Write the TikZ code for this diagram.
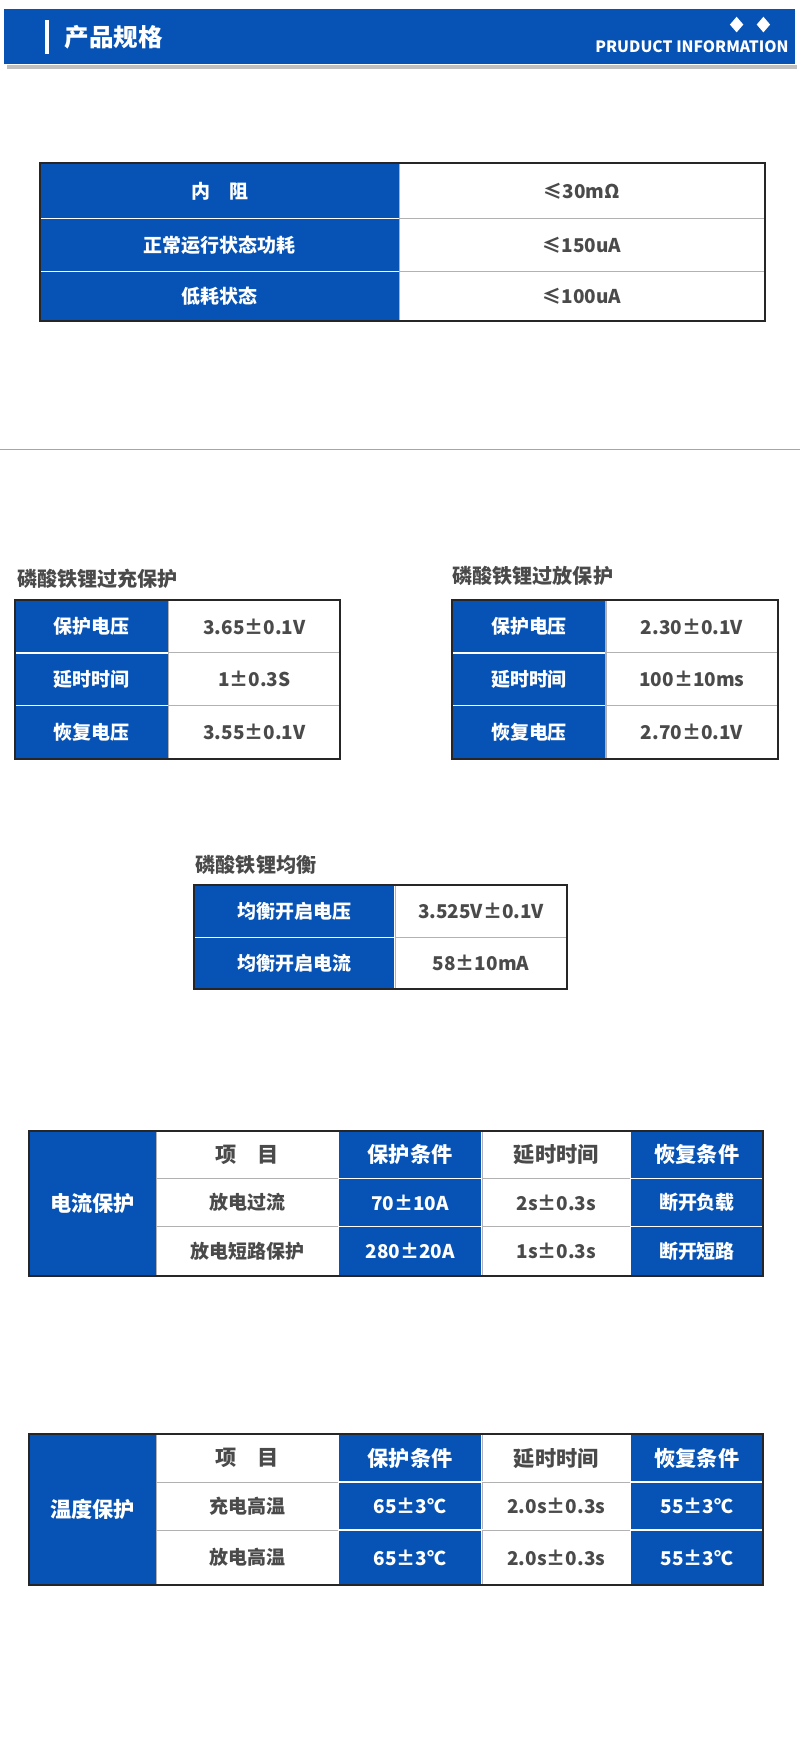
\documentclass[tikz,border=0pt]{standalone}
\usepackage{fontspec}
\setmainfont{Noto Sans CJK SC}
\definecolor{mainblue}{HTML}{0652B5}
\definecolor{txtgray}{HTML}{4A4A4A}
\tikzset{
  cell/.style={inner sep=0pt, outer sep=0pt, font=\fontsize{8.5}{10}\selectfont\bfseries},
  bluecell/.style={cell, fill=mainblue, draw=white, line width=0.6pt, text=white},
  whitecell/.style={cell, fill=white, draw=gray!60, line width=0.5pt, text=txtgray},
  bigcell/.style={font=\fontsize{9.5}{11}\selectfont\bfseries},
  frame/.style={draw=black!85, line width=0.9pt},
  title/.style={anchor=west, inner sep=0pt, text=txtgray, font=\fontsize{9}{11}\selectfont\bfseries}
}
% cell from its corners (pixels of the reference)
\newcommand{\cell}[7]{%
  \pgfmathsetmacro\cx{(#2+#4)/2}\pgfmathsetmacro\cy{(#3+#5)/2}%
  \pgfmathsetmacro\cw{(#4-#2)*0.5}\pgfmathsetmacro\ch{(#5-#3)*0.5}%
  \node[#6, minimum width=\cw pt, minimum height=\ch pt] (#1) at (\cx,\cy) {#7};}
\begin{document}
\begin{tikzpicture}[x=0.5pt, y=-0.5pt]
\useasboundingbox[fill=white] (0,0) rectangle (717,1568);
% header
\fill[black!25] (6,58) rectangle (714,62);
\fill[mainblue] (4,8) rectangle (712,57);
\fill[white] (40,18) rectangle (44,48);
\node[anchor=west, text=white, font=\fontsize{11}{13}\selectfont\bfseries] (head) at (51,33) {产品规格};
\node[anchor=east, text=white, inner sep=0pt, font=\fontsize{7}{8}\selectfont\bfseries] (info) at (707,42) {PRUDUCT INFORMATION};
\foreach \dx in {660,684}
  \fill[white] (\dx,15) -- (\dx+6,22) -- (\dx,29) -- (\dx-6,22) -- cycle;

% table 1
\cell{a1}{36}{146}{358}{196}{bluecell}{内\quad 阻}
\cell{b1}{358}{146}{685}{196}{whitecell}{≤30mΩ}
\cell{a2}{36}{196}{358}{243}{bluecell}{正常运行状态功耗}
\cell{b2}{358}{196}{685}{243}{whitecell}{≤150uA}
\cell{a3}{36}{243}{358}{288}{bluecell}{低耗状态}
\cell{b3}{358}{243}{685}{288}{whitecell}{≤100uA}
\draw[frame] (a1.north west) rectangle (b3.south east);

\draw[gray!70, line width=0.5pt] (0,403) -- (717,403);

% over charge
\node[title] (tc) at (15,519) {磷酸铁锂过充保护};
\cell{c1}{13}{538}{151}{585}{bluecell}{保护电压}
\cell{d1}{151}{538}{305}{585}{whitecell}{3.65±0.1V}
\cell{c2}{13}{585}{151}{632}{bluecell}{延时时间}
\cell{d2}{151}{585}{305}{632}{whitecell}{1±0.3S}
\cell{c3}{13}{632}{151}{680}{bluecell}{恢复电压}
\cell{d3}{151}{632}{305}{680}{whitecell}{3.55±0.1V}
\draw[frame] (c1.north west) rectangle (d3.south east);

% over discharge
\node[title] (td) at (405,516) {磷酸铁锂过放保护};
\cell{e1}{405}{538}{543}{585}{bluecell}{保护电压}
\cell{f1}{543}{538}{697}{585}{whitecell}{2.30±0.1V}
\cell{e2}{405}{585}{543}{632}{bluecell}{延时时间}
\cell{f2}{543}{585}{697}{632}{whitecell}{100±10ms}
\cell{e3}{405}{632}{543}{680}{bluecell}{恢复电压}
\cell{f3}{543}{632}{697}{680}{whitecell}{2.70±0.1V}
\draw[frame] (e1.north west) rectangle (f3.south east);

% balance
\node[title] (tb) at (175,775) {磷酸铁锂均衡};
\cell{g1}{174}{793}{354}{840}{bluecell}{均衡开启电压}
\cell{h1}{354}{793}{508}{840}{whitecell}{3.525V±0.1V}
\cell{g2}{174}{840}{354}{886}{bluecell}{均衡开启电流}
\cell{h2}{354}{840}{508}{886}{whitecell}{58±10mA}
\draw[frame] (g1.north west) rectangle (h2.south east);

% current protection
\cell{i0}{26}{1013}{140}{1143}{bluecell,bigcell}{电流保护}
\cell{i1}{140}{1013}{303}{1056}{whitecell,bigcell}{项\quad 目}
\cell{i2}{303}{1013}{432}{1056}{bluecell,bigcell}{保护条件}
\cell{i3}{432}{1013}{565}{1056}{whitecell,bigcell}{延时时间}
\cell{i4}{565}{1013}{684}{1056}{bluecell,bigcell}{恢复条件}
\cell{j1}{140}{1056}{303}{1099}{whitecell}{放电过流}
\cell{j2}{303}{1056}{432}{1099}{bluecell}{70±10A}
\cell{j3}{432}{1056}{565}{1099}{whitecell}{2s±0.3s}
\cell{j4}{565}{1056}{684}{1099}{bluecell}{断开负载}
\cell{k1}{140}{1099}{303}{1143}{whitecell}{放电短路保护}
\cell{k2}{303}{1099}{432}{1143}{bluecell}{280±20A}
\cell{k3}{432}{1099}{565}{1143}{whitecell}{1s±0.3s}
\cell{k4}{565}{1099}{684}{1143}{bluecell}{断开短路}
\draw[frame] (i0.north west) rectangle (k4.south east);

% temperature protection
\cell{m0}{26}{1285}{140}{1420}{bluecell,bigcell}{温度保护}
\cell{m1}{140}{1285}{303}{1328}{whitecell,bigcell}{项\quad 目}
\cell{m2}{303}{1285}{432}{1328}{bluecell,bigcell}{保护条件}
\cell{m3}{432}{1285}{565}{1328}{whitecell,bigcell}{延时时间}
\cell{m4}{565}{1285}{684}{1328}{bluecell,bigcell}{恢复条件}
\cell{n1}{140}{1328}{303}{1371}{whitecell}{充电高温}
\cell{n2}{303}{1328}{432}{1371}{bluecell}{65±3℃}
\cell{n3}{432}{1328}{565}{1371}{whitecell}{2.0s±0.3s}
\cell{n4}{565}{1328}{684}{1371}{bluecell}{55±3℃}
\cell{p1}{140}{1371}{303}{1420}{whitecell}{放电高温}
\cell{p2}{303}{1371}{432}{1420}{bluecell}{65±3℃}
\cell{p3}{432}{1371}{565}{1420}{whitecell}{2.0s±0.3s}
\cell{p4}{565}{1371}{684}{1420}{bluecell}{55±3℃}
\draw[frame] (m0.north west) rectangle (p4.south east);
\end{tikzpicture}
\end{document}
